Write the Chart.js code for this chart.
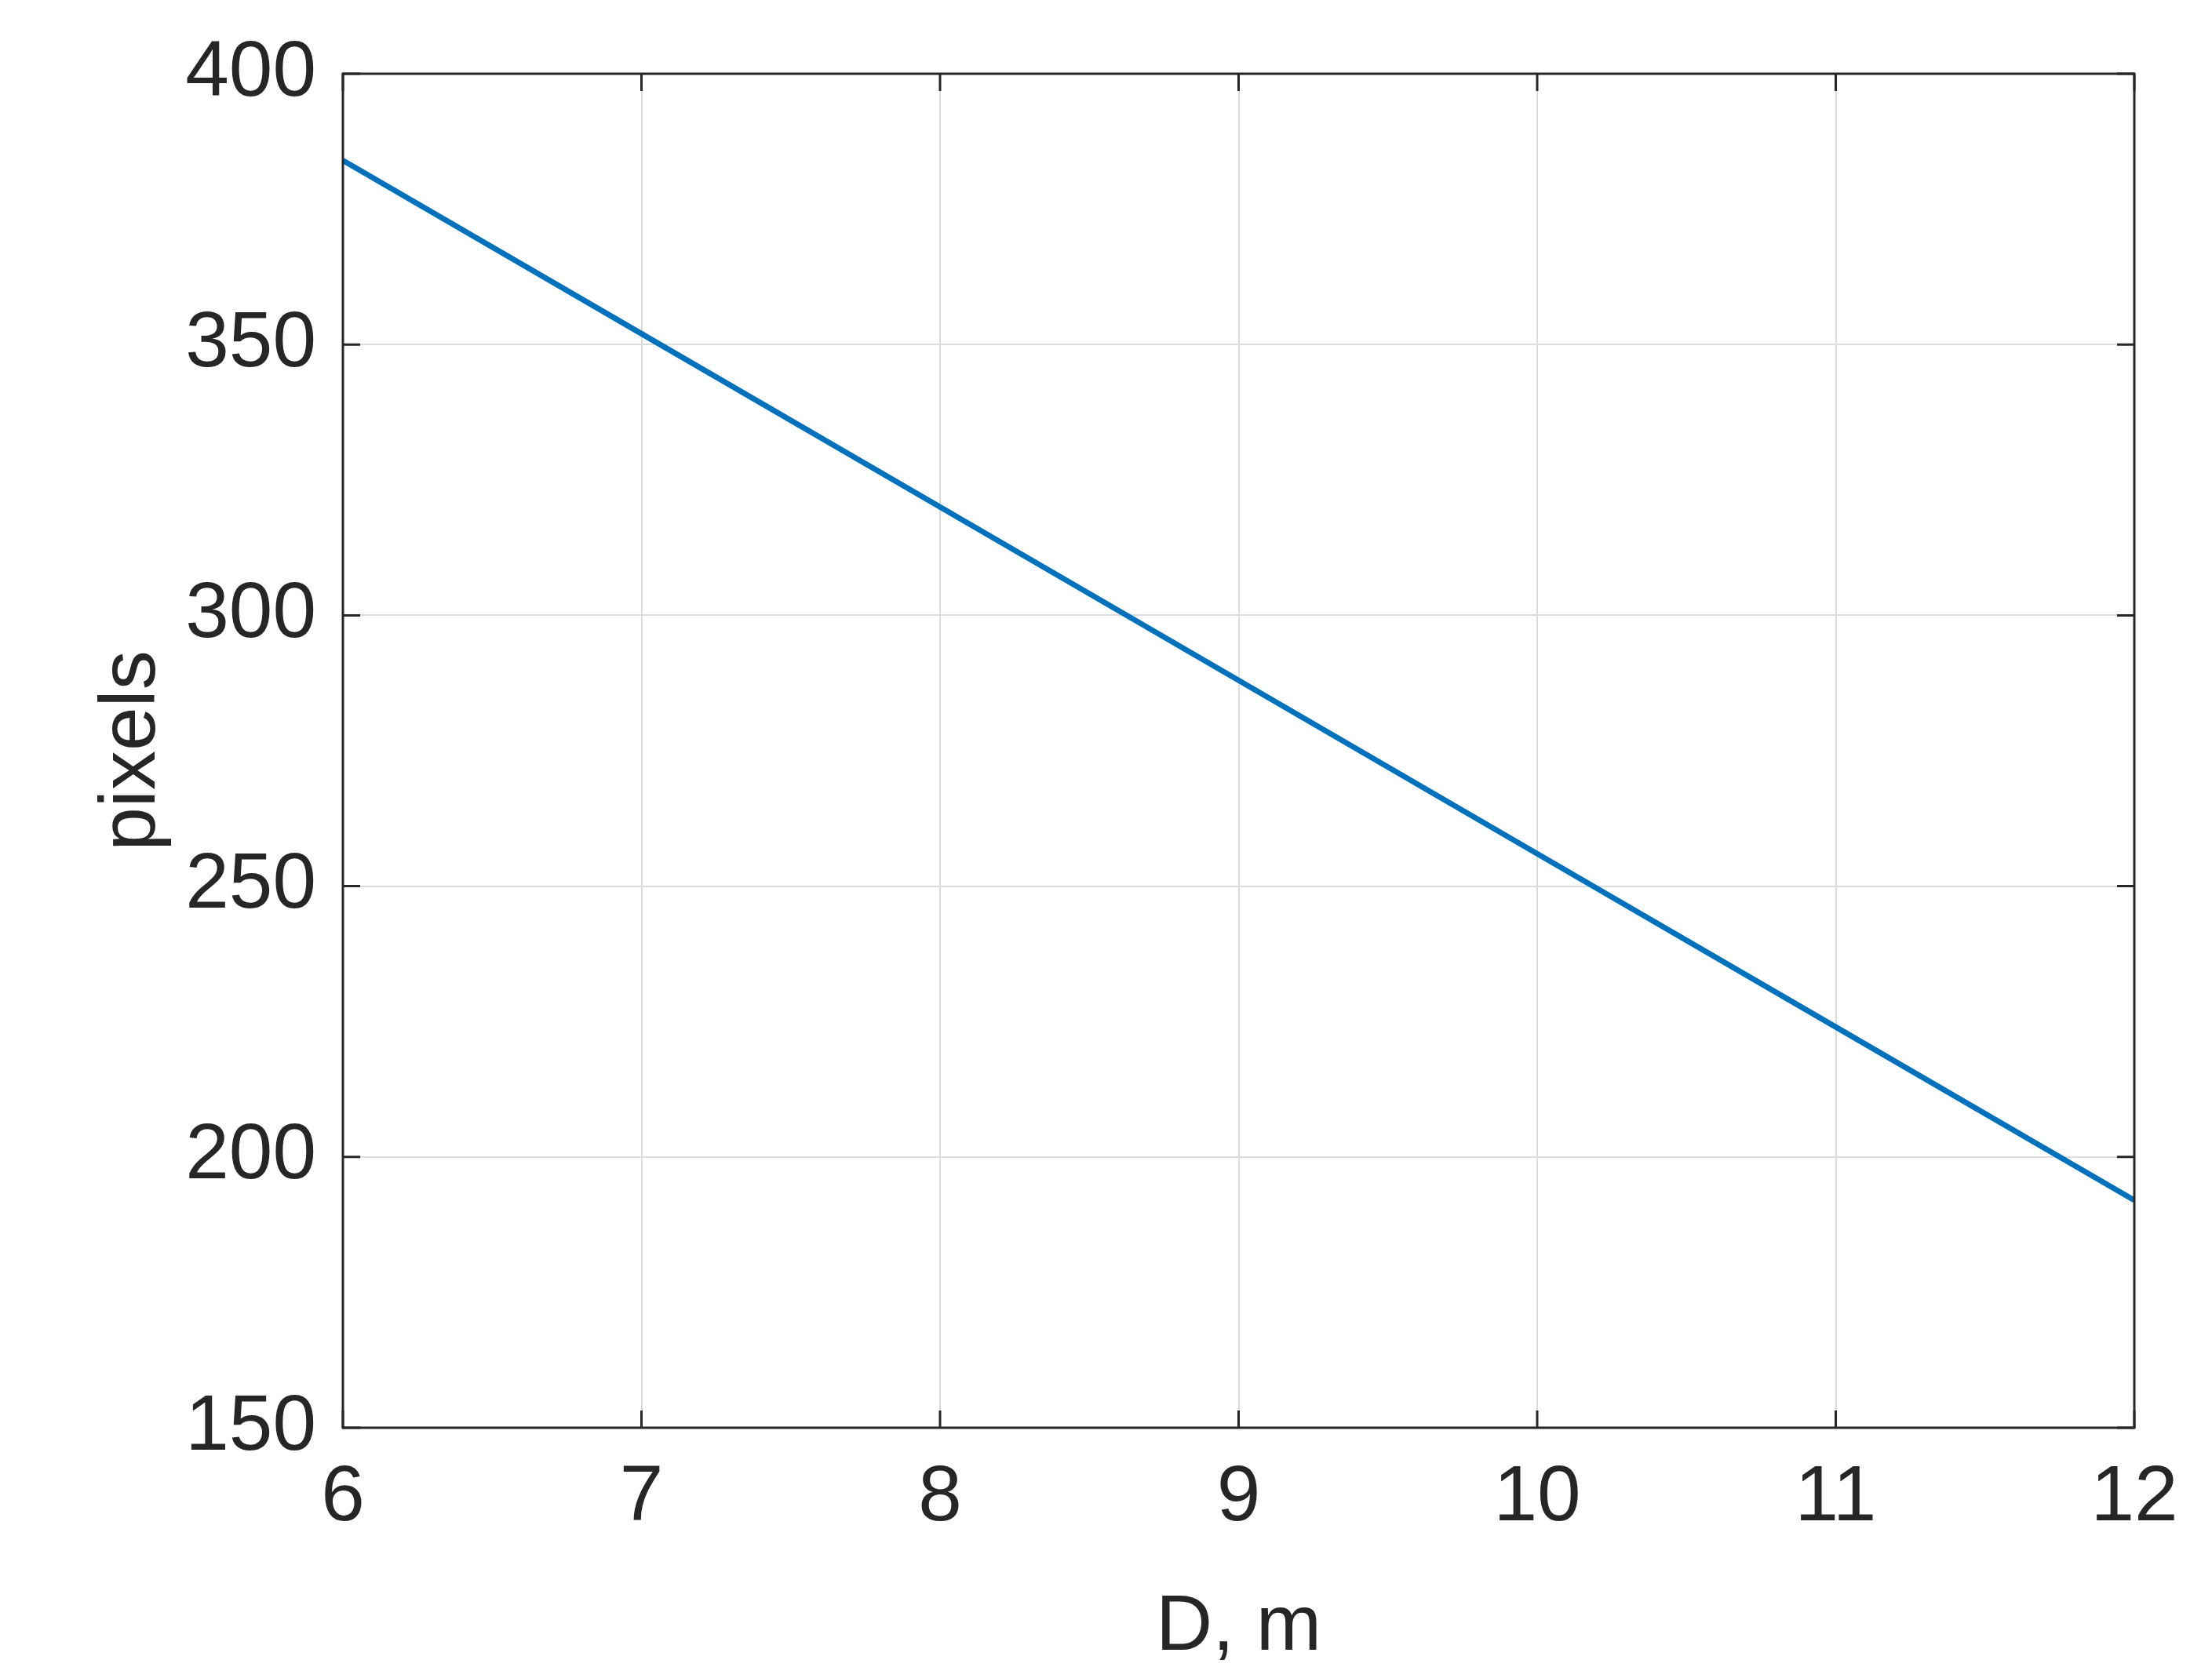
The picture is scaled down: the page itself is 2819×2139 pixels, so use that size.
<!DOCTYPE html>
<html><head><meta charset="utf-8">
<script src="https://cdn.jsdelivr.net/npm/chart.js@4/dist/chart.umd.min.js"></script>
<style>html,body{margin:0;padding:0;background:#fff}</style>
</head><body>
<canvas id="c" width="2819" height="2139"></canvas>
<script>
const distances = [6, 7, 8, 9, 10, 11, 12];
const pixelValues = [384, 352, 320, 288, 256, 224, 192];
const xTicks = [6, 7, 8, 9, 10, 11, 12];
const yTicks = [150, 200, 250, 300, 350, 400];

const frame = {
  id: 'frame',
  afterDraw(chart) {
    const {ctx, chartArea: a, scales: {x, y}} = chart;
    ctx.save();
    ctx.strokeStyle = '#262626';
    ctx.lineWidth = 3;
    ctx.strokeRect(a.left, a.top, a.right - a.left, a.bottom - a.top);
    const t = 22;
    ctx.beginPath();
    xTicks.forEach(v => { const p = x.getPixelForValue(v);
      ctx.moveTo(p, a.bottom); ctx.lineTo(p, a.bottom - t);
      ctx.moveTo(p, a.top); ctx.lineTo(p, a.top + t); });
    yTicks.forEach(v => { const p = y.getPixelForValue(v);
      ctx.moveTo(a.left, p); ctx.lineTo(a.left + t, p);
      ctx.moveTo(a.right, p); ctx.lineTo(a.right - t, p); });
    ctx.stroke();
    ctx.restore();
  }
};

new Chart(document.getElementById('c'), {
  type: 'line',
  data: { datasets: [{ data: distances.map((d, i) => ({x: d, y: pixelValues[i]})),
    borderColor: '#0072BD', borderWidth: 7, pointRadius: 0, tension: 0 }] },
  options: {
    responsive: false, devicePixelRatio: 1, animation: false,
    layout: { padding: { top: 85, right: 99, left: 105, bottom: 0 } },
    plugins: { legend: { display: false }, tooltip: { enabled: false } },
    scales: {
      x: { type: 'linear', min: 6, max: 12,
        afterBuildTicks: s => { s.ticks = xTicks.map(v => ({value: v})); },
        afterFit: s => { s.height = 319; },
        grid: { color: '#dcdcdc', lineWidth: 2, drawTicks: false },
        border: { display: false },
        ticks: { color: '#262626', font: { family: 'Liberation Sans', size: 100 }, padding: 30 },
        title: { display: true, text: 'D, m', color: '#262626', font: { family: 'Liberation Sans', size: 100 }, padding: { top: 0 } } },
      y: { type: 'linear', min: 150, max: 400,
        afterBuildTicks: s => { s.ticks = yTicks.map(v => ({value: v})); },
        afterFit: s => { s.width = 332; },
        grid: { color: '#dcdcdc', lineWidth: 2, drawTicks: false },
        border: { display: false },
        ticks: { color: '#262626', font: { family: 'Liberation Sans', size: 100 }, padding: 34 },
        title: { display: true, text: 'pixels', color: '#262626', font: { family: 'Liberation Sans', size: 100 }, padding: { bottom: 20 } } }
    }
  },
  plugins: [frame]
});
</script>
</body></html>
